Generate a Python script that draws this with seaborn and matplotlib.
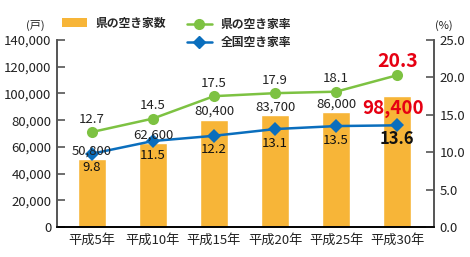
import matplotlib
matplotlib.use("Agg")
import matplotlib.pyplot as plt
import seaborn as sns
import pandas as pd
from matplotlib.lines import Line2D
from matplotlib.patches import Patch

sns.set_theme(style="white")
plt.rcParams['font.family'] = ['Noto Sans CJK JP', 'DejaVu Sans']

categories = ["平成5年", "平成10年", "平成15年", "平成20年", "平成25年", "平成30年"]
vacant_houses = [50800, 62600, 80400, 83700, 86000, 98400]
pref_rate = [12.7, 14.5, 17.5, 17.9, 18.1, 20.3]
national_rate = [9.8, 11.5, 12.2, 13.1, 13.5, 13.6]
bar_labels = ["50,800", "62,600", "80,400", "83,700", "86,000", "98,400"]

ORANGE = "#F7B538"
GREEN = "#7DC242"
BLUE = "#0A6EBD"
RED = "#E60012"
GRAY = "#555555"
TXT = "#222222"
PX = 0.72  # points per pixel at 100 dpi

df = pd.DataFrame({"cat": categories, "houses": vacant_houses,
                   "pref": pref_rate, "nat": national_rate, "x": range(len(categories))})

fig = plt.figure(figsize=(4.7, 2.57), dpi=100)
ax = fig.add_axes([0.1213, 0.1167, 0.8017, 0.7273])
sns.barplot(data=df, x="cat", y="houses", color=ORANGE, width=0.46, ax=ax, saturation=1)
ax.set_ylim(0, 140000)
ax.set_xlim(-0.57, 5.6)
ax.set_yticks(range(0, 140001, 20000))
ax.set_yticklabels([f"{v:,}" for v in range(0, 140001, 20000)], fontsize=9.5, color=TXT)
ax.set_xlabel("")
ax.set_ylabel("")
ax.tick_params(axis="x", length=0, labelsize=9.5, pad=5, colors=TXT)
ax.tick_params(axis="y", direction="in", length=6, width=1.2, color=GRAY, left=True, pad=4)

ax2 = ax.twinx()
sns.lineplot(data=df, x="x", y="pref", color=GREEN, marker="o", markersize=8,
             markeredgewidth=0, linewidth=1.8, ax=ax2)
sns.lineplot(data=df, x="x", y="nat", color=BLUE, marker="D", markersize=7,
             markeredgewidth=0, linewidth=1.8, ax=ax2)
ax2.set_ylim(0, 25)
ax2.set_xlim(-0.57, 5.6)
ax2.set_yticks([0, 5, 10, 15, 20, 25])
ax2.set_yticklabels([f"{v:.1f}" for v in [0, 5, 10, 15, 20, 25]], fontsize=9.5, color=TXT)
ax2.set_ylabel("")
ax2.tick_params(axis="y", direction="in", length=6, width=1.2, color=GRAY, right=True, pad=4)

for a in (ax, ax2):
    a.spines["top"].set_visible(False)
    a.spines["left"].set_color(GRAY)
    a.spines["right"].set_color(GRAY)
    a.spines["left"].set_linewidth(1.2)
    a.spines["right"].set_linewidth(1.2)
    a.spines["bottom"].set_color("black")
    a.spines["bottom"].set_linewidth(1.2)
    a.grid(False)

n = len(categories)
for i in range(n):
    last = i == n - 1
    # bar labels (drawn on top axes so lines do not cover them)
    if last:
        ax2.annotate(bar_labels[i], xy=(i, vacant_houses[i]), xycoords=ax.transData,
                     xytext=(-4 * PX, -13 * PX), textcoords="offset points",
                     ha="center", va="center", fontsize=13.5, color=RED, fontweight="bold")
    else:
        ax2.annotate(bar_labels[i], xy=(i, vacant_houses[i]), xycoords=ax.transData,
                     xytext=(0, 2 * PX), textcoords="offset points",
                     ha="center", va="bottom", fontsize=9.5, color=TXT)
    ax2.annotate(f"{pref_rate[i]:.1f}", xy=(i, pref_rate[i]),
                 xytext=(0, (14 if last else 13) * PX), textcoords="offset points",
                 ha="center", va="center", fontsize=14 if last else 9.5,
                 color=RED if last else TXT, fontweight="bold" if last else "normal")
    ax2.annotate(f"{national_rate[i]:.1f}", xy=(i, national_rate[i]),
                 xytext=(0, -(14 if last else 14) * PX), textcoords="offset points",
                 ha="center", va="center", fontsize=12 if last else 9.5,
                 color="#111111", fontweight="bold" if last else "normal")

fig.text(0.075, 0.9, "(戸)", fontsize=8, ha="center", va="center", color=TXT)
fig.text(0.945, 0.9, "(%)", fontsize=8, ha="center", va="center", color=TXT)

handles1 = [Patch(facecolor=ORANGE, edgecolor="none")]
fig.legend(handles1, ["県の空き家数"], loc="center left", bbox_to_anchor=(0.11, 0.91),
           frameon=False, prop={"size": 8.5, "weight": "bold"},
           handlelength=2.1, handleheight=0.7, handletextpad=0.75)
handles2 = [Line2D([], [], color=GREEN, marker="o", markersize=7, linewidth=1.8),
            Line2D([], [], color=BLUE, marker="D", markersize=6, linewidth=1.8)]
fig.legend(handles2, ["県の空き家率", "全国空き家率"], loc="center left",
           bbox_to_anchor=(0.375, 0.87), frameon=False, prop={"size": 8.5, "weight": "bold"},
           handlelength=2.1, handletextpad=0.75, labelspacing=0.45)

fig.savefig("out.png", dpi=100)
